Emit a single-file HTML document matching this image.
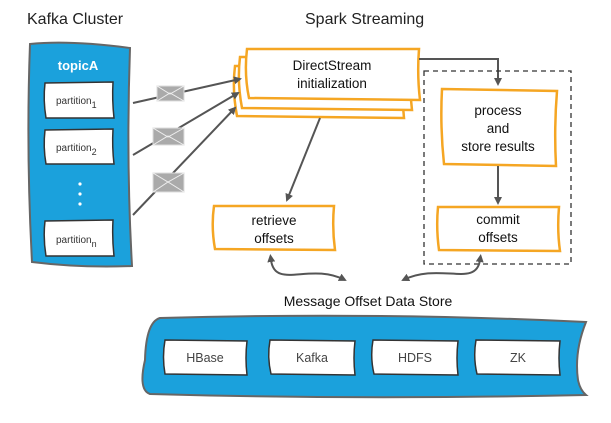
<!DOCTYPE html>
<html><head><meta charset="utf-8"><style>
body{margin:0;background:#fff;}
svg text{font-family:"Liberation Sans",sans-serif;}
</style></head><body>
<svg width="611" height="418" viewBox="0 0 611 418" xmlns="http://www.w3.org/2000/svg">
<defs>
<marker id="ah" markerWidth="8" markerHeight="8" refX="6" refY="4" orient="auto" markerUnits="userSpaceOnUse"><path d="M0,0 L8,4 L0,8 z" fill="#555"/></marker>
<marker id="ahs" markerWidth="8" markerHeight="8" refX="2" refY="4" orient="auto-start-reverse" markerUnits="userSpaceOnUse"><path d="M0,0 L8,4 L0,8 z" fill="#555"/></marker>
</defs>
<text x="27" y="24" font-size="16" fill="#222">Kafka Cluster</text>
<text x="305" y="24" font-size="16" fill="#222">Spark Streaming</text>
<!-- kafka cluster -->
<path d="M30,44 Q70,40 130,48 Q126,160 132,266 Q80,268 32,262 Q26,150 30,44 z" fill="#1ba1dc" stroke="#666" stroke-width="2"/>
<text x="78" y="70" font-size="13" font-weight="bold" fill="#fff" text-anchor="middle">topicA</text>
<g fill="#fff" stroke="#333" stroke-width="1.5">
<path d="M45,83 L113,82 Q112,100 114,118 L46,118 Q43,100 45,83z"/>
<path d="M45,130 L113,129 Q112,147 114,164 L46,164 Q43,147 45,130z"/>
<path d="M45,221 L113,220 Q112,238 114,256 L46,256 Q43,238 45,221z"/>
</g>
<g font-size="10" fill="#333"><text x="56" y="104">partition<tspan font-size="9" dy="4">1</tspan></text>
<text x="56" y="151">partition<tspan font-size="9" dy="4">2</tspan></text>
<text x="56" y="243">partition<tspan font-size="9" dy="4">n</tspan></text></g>
<g fill="#fff"><circle cx="80" cy="184" r="1.6"/><circle cx="80" cy="194" r="1.6"/><circle cx="80" cy="204" r="1.6"/></g>
<!-- DirectStream stack -->
<g fill="#fff" stroke="#f5a623" stroke-width="2.5">
<path d="M235,66 L403,66 Q401,92 404,118 L237,116 Q232,90 235,66z"/>
<path d="M240,57 L411,57 Q409,83 412,110 L242,108 Q237,82 240,57z"/>
<path d="M247,49 L419,49 Q417,75 420,100 L249,98 Q244,74 247,49z"/>
</g>
<!-- lines -->
<g stroke="#555" stroke-width="2" fill="none">
<line x1="133" y1="103" x2="240" y2="79" marker-end="url(#ah)"/>
<line x1="133" y1="155" x2="238" y2="93" marker-end="url(#ah)"/>
<line x1="133" y1="215" x2="235" y2="108" marker-end="url(#ah)"/>
</g>
<g fill="#aaa" stroke="#ddd" stroke-width="1">
<rect x="157" y="86" width="27" height="15"/><rect x="153" y="128" width="31" height="17"/><rect x="153" y="173" width="31" height="19"/>
</g>
<g stroke="#eee" stroke-width="1" fill="none">
<path d="M157,86 L170,94 L184,86 M157,101 L170,93 L184,101"/>
<path d="M153,128 L168,137 L184,128 M153,145 L168,136 L184,145"/>
<path d="M153,173 L168,182 L184,173 M153,192 L168,182 L184,192"/>
</g>
<text x="332" y="70" font-size="13.5" fill="#111" text-anchor="middle">DirectStream</text>
<text x="332" y="88" font-size="13.5" fill="#111" text-anchor="middle">initialization</text>
<path d="M419,59 L498,59 L498,84" stroke="#555" stroke-width="2" fill="none" marker-end="url(#ah)"/>
<line x1="320" y1="118" x2="287" y2="200" stroke="#555" stroke-width="2" marker-end="url(#ah)"/>
<rect x="424" y="71" width="147" height="193" fill="none" stroke="#333" stroke-width="1.3" stroke-dasharray="5,4"/>
<g fill="#fff" stroke="#f5a623" stroke-width="2.5">
<path d="M442,89 L557,91 Q554,128 556,166 L444,164 Q440,126 442,89z"/>
<path d="M438,207 L559,207 Q557,230 560,251 L439,250 Q436,228 438,207z"/>
<path d="M214,206 L334,206 Q332,228 335,250 L215,249 Q211,227 214,206z"/>
</g>
<line x1="498" y1="166" x2="498" y2="203" stroke="#555" stroke-width="2" marker-end="url(#ah)"/>
<g font-size="13.5" fill="#111" text-anchor="middle">
<text x="498" y="115">process</text><text x="498" y="133">and</text><text x="498" y="151">store results</text>
<text x="498" y="224">commit</text><text x="498" y="242">offsets</text>
<text x="274" y="225">retrieve</text><text x="274" y="243">offsets</text>
</g>
<g stroke="#555" stroke-width="2" fill="none">
<path d="M271,260 C275,290 310,262 345,280" marker-start="url(#ahs)" marker-end="url(#ah)"/>
<path d="M480,260 C476,288 440,262 403,280" marker-start="url(#ahs)" marker-end="url(#ah)"/>
</g>
<text x="368" y="306" font-size="14" fill="#111" text-anchor="middle">Message Offset Data Store</text>
<path d="M160,318 Q380,312 586,322 Q574,352 578,380 Q580,390 586,395 Q360,400 150,394 Q138,390 145,360 Q146,322 160,318z" fill="#1ba1dc" stroke="#666" stroke-width="2"/>
<g fill="#fff" stroke="#333" stroke-width="1.5">
<path d="M165,340 L247,341 Q245,358 247,375 L165,374 Q162,357 165,340z"/>
<path d="M270,340 L355,341 Q353,358 355,375 L271,374 Q267,357 270,340z"/>
<path d="M373,340 L458,341 Q456,358 458,375 L374,374 Q370,357 373,340z"/>
<path d="M476,340 L560,341 Q558,358 560,375 L477,374 Q473,357 476,340z"/>
</g>
<g font-size="12.5" fill="#444" text-anchor="middle">
<text x="205" y="362">HBase</text><text x="312" y="362">Kafka</text><text x="415" y="362">HDFS</text><text x="518" y="362">ZK</text>
</g>
</svg>
</body></html>
